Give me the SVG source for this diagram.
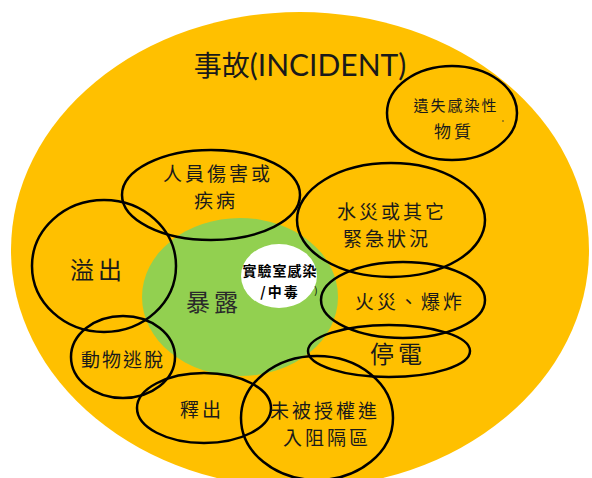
<svg xmlns="http://www.w3.org/2000/svg" width="592" height="478" viewBox="0 0 592 478">
<style>
.ring{fill:none;stroke:#000;stroke-width:2.5}
.t{font-family:"Noto Sans CJK TC","Noto Sans CJK SC",sans-serif;fill:#1a1a1a;text-anchor:middle;dominant-baseline:central}
.m{font-size:19px;letter-spacing:3px}
.l{font-size:24px;letter-spacing:4px}
</style>
<rect width="592" height="478" fill="#fff"/>
<g id="incident">
<ellipse cx="300" cy="250" rx="289" ry="238" fill="#FFC000"/>
<text class="t" x="300" y="64" style="font-size:28px"><tspan>事故</tspan><tspan style="font-family:Lato,'Open Sans',sans-serif;font-size:30px">(INCIDENT)</tspan></text>
</g>
<g id="exposure">
<ellipse cx="240" cy="297" rx="98" ry="79" fill="#92D050"/>
<text class="t l" x="214" y="300" style="fill:#2a2a2a">暴露</text>
</g>
<g id="lab-infection">
<ellipse cx="279" cy="276" rx="38" ry="32" fill="#fff"/>
<text class="t" x="280" y="270" style="font-size:14px;font-weight:bold;letter-spacing:1px;fill:#000">實驗室感染</text>
<text class="t" x="280" y="291" style="font-size:14px;font-weight:bold;letter-spacing:2px;fill:#000">/中毒</text>
<text class="t" x="316" y="289" style="font-size:10px;fill:#000">)</text>
</g>
<g id="loss">
<ellipse class="ring" cx="452" cy="113" rx="65" ry="47"/>
<text class="t" x="456" y="104" style="font-size:15px;letter-spacing:2px">遺失感染性</text>
<text class="t" x="454" y="130" style="font-size:17px;letter-spacing:3px">物質</text>
<circle cx="503" cy="121" r="0.8" fill="#333"/>
</g>
<g id="injury">
<ellipse class="ring" cx="211" cy="195" rx="89" ry="45"/>
<text class="t m" x="218" y="172">人員傷害或</text>
<text class="t m" x="216" y="199">疾病</text>
</g>
<g id="spill">
<ellipse class="ring" cx="104" cy="266" rx="72" ry="66"/>
<text class="t l" x="98" y="268">溢出</text>
</g>
<g id="flood">
<ellipse class="ring" cx="391" cy="220" rx="94" ry="57"/>
<text class="t m" x="392" y="210">水災或其它</text>
<text class="t m" x="387" y="237">緊急狀況</text>
</g>
<g id="fire">
<ellipse class="ring" cx="403" cy="300" rx="82" ry="38"/>
<text class="t m" x="410" y="300">火災、爆炸</text>
</g>
<g id="power">
<ellipse class="ring" cx="389" cy="351" rx="81" ry="26"/>
<text class="t l" x="398" y="352">停電</text>
</g>
<g id="animal">
<ellipse class="ring" cx="123" cy="357" rx="52" ry="41"/>
<text class="t m" x="123" y="358" style="letter-spacing:2px">動物逃脫</text>
</g>
<g id="release">
<ellipse class="ring" cx="204" cy="408" rx="67" ry="35"/>
<text class="t m" x="202" y="408">釋出</text>
</g>
<g id="unauthorized">
<ellipse class="ring" cx="317" cy="418" rx="76" ry="62"/>
<text class="t m" x="325" y="409">未被授權進</text>
<text class="t m" x="327" y="436">入阻隔區</text>
</g>
<g id="connectors"></g>
</svg>
